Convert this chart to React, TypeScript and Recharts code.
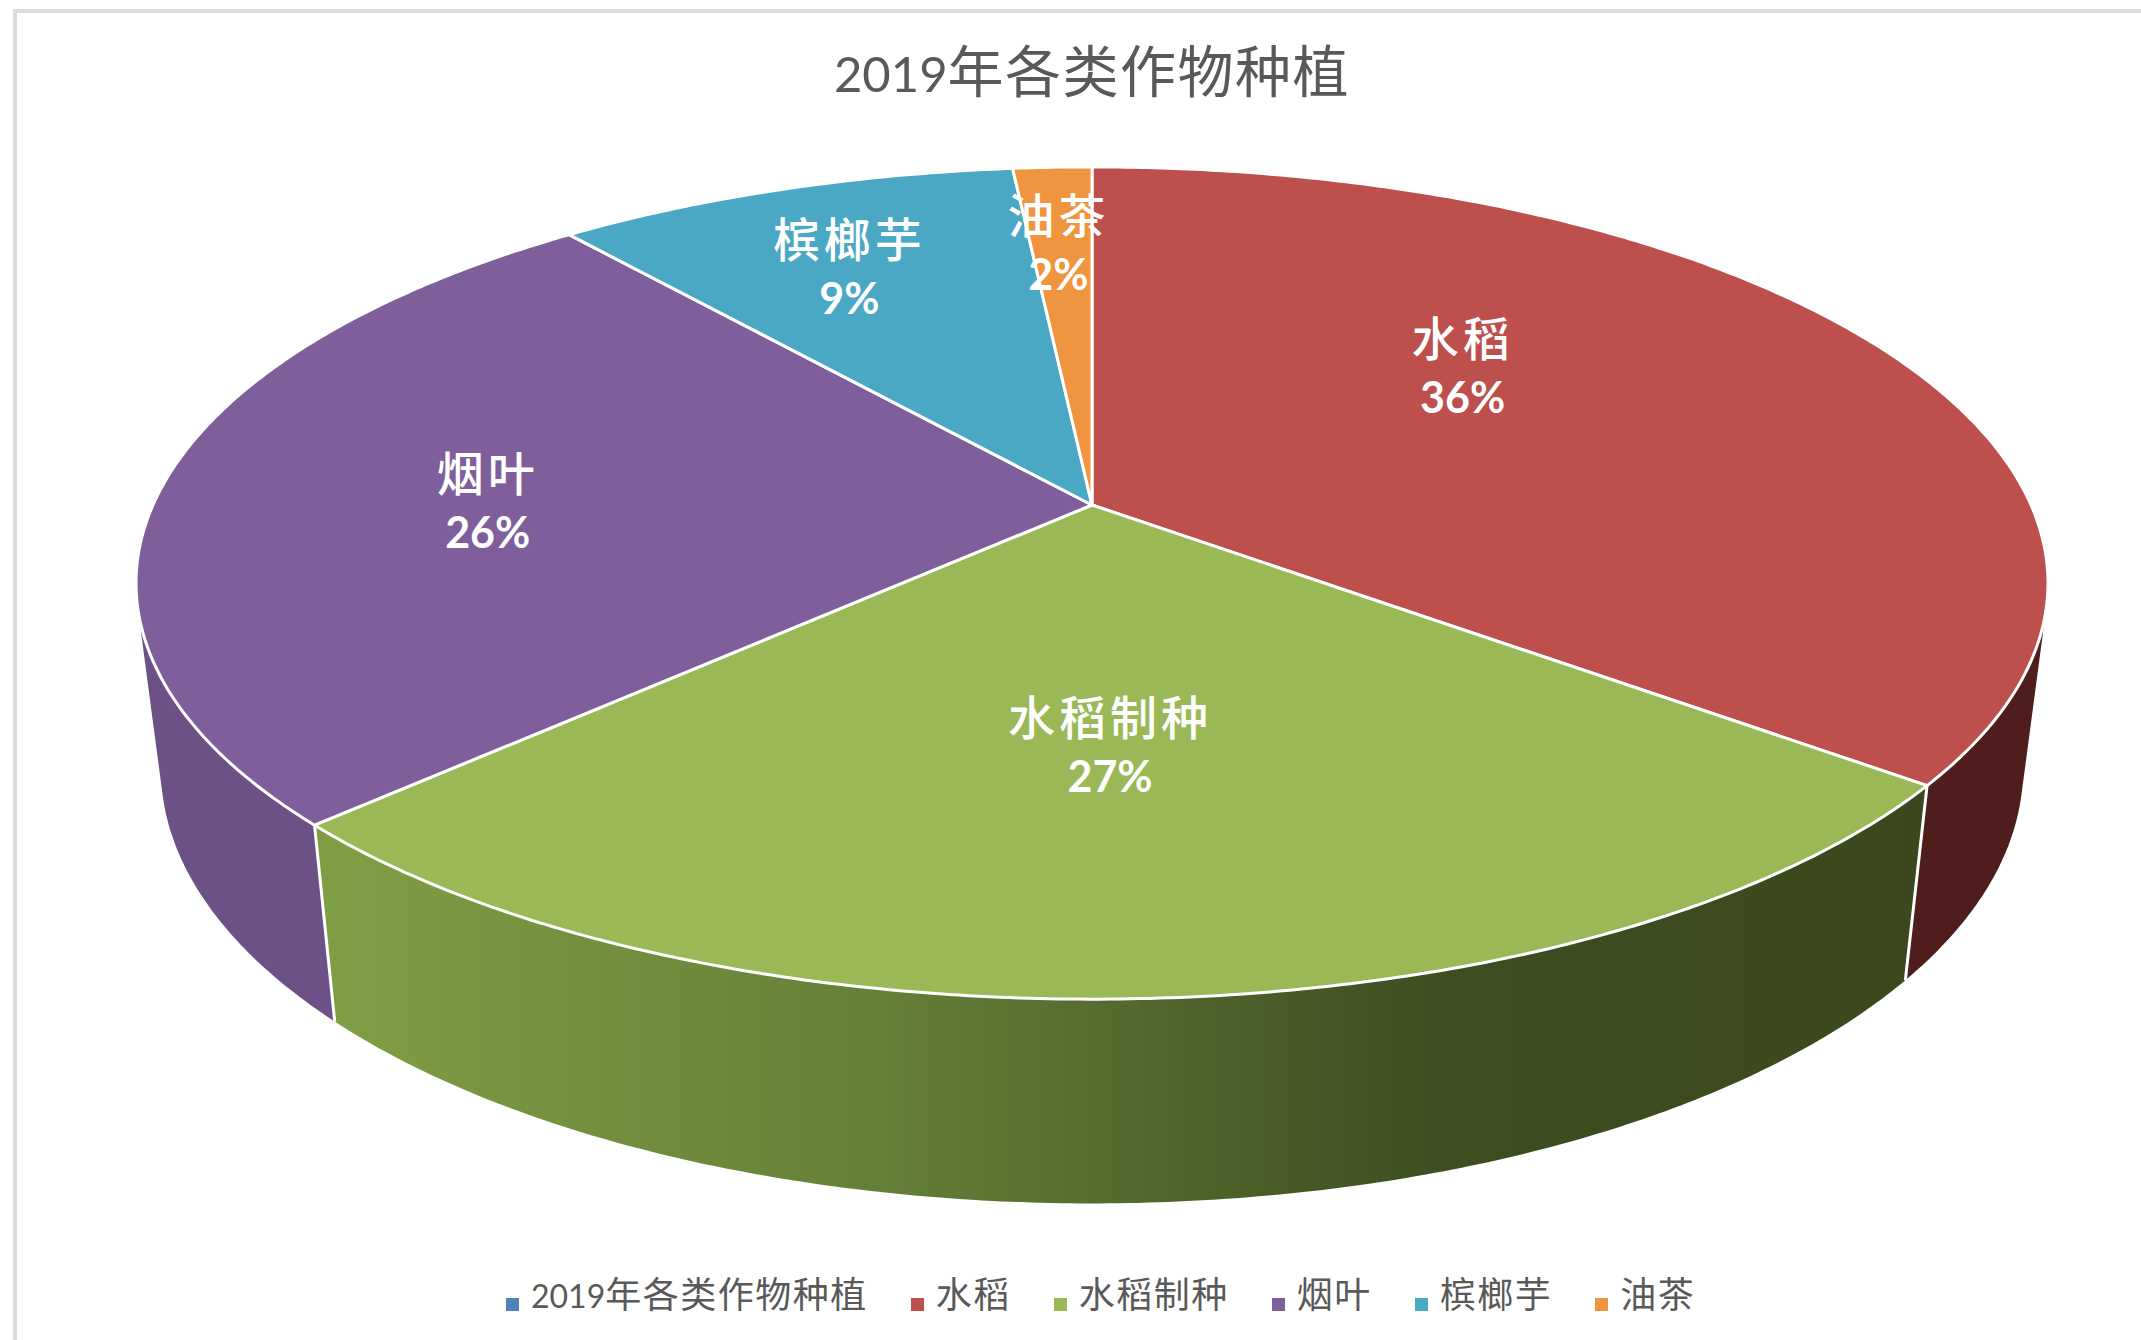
import React from 'react'
import { Legend, Pie, PieChart } from 'recharts'

const chartTitle = '2019年各类作物种植'
const categories = ['2019年各类作物种植', '水稻', '水稻制种', '烟叶', '槟榔芋', '油茶']
// first entry is the series name, Excel lists it in the legend with no slice of its own
const shares = [0, 35.6, 27.2, 26.2, 9.4, 1.6]

const sliceColors = ['#4f81bd', '#bd4f4c', '#9ab956', '#7e5f9b', '#4aa8c5', '#f0953f']
const wallColors = ['#4f81bd', '#4f1d1b', 'url(#greenWall)', '#6b5186', '#3a8aa3', '#c47a30']

// where each label sits relative to the middle of its slice
const labelNudges = [
  [0, 0],
  [-35, -52],
  [-8, 22],
  [-138, 10],
  [-76, -65],
  [-12, -76],
]

const LATIN = 'Lato, "Noto Sans CJK SC", sans-serif'
const CJK = '"Noto Sans CJK SC", sans-serif'

const tableData = categories.map((name, i) => ({ name, value: shares[i], fill: sliceColors[i] }))
const wallData = categories.map((name, i) => ({ name, value: shares[i], fill: wallColors[i] }))
const total = shares.reduce((a, b) => a + b, 0)

// perspective of the disc seen from above, apex is the pie centre
const TILT = 0.1875
const FLATTEN = 0.4276
const WALL_DROP = 182
const WALL_SCALE_X = 0.974
const WALL_SCALE_Y = 1.045

function project(cx: number, cy: number, radius: number, deg: number, r = 1, lower = false) {
  const ux = r * Math.cos((deg * Math.PI) / 180)
  const uy = r * Math.sin((deg * Math.PI) / 180)
  const den = 1 + TILT * uy
  const x = (radius * ux) / den
  const y = (-radius * FLATTEN * uy) / den
  if (lower) return [cx + x * WALL_SCALE_X, cy + WALL_DROP + y * WALL_SCALE_Y]
  return [cx + x, cy + y]
}

function arcPoints(p: any, lower: boolean) {
  const pts: number[][] = []
  const steps = Math.max(2, Math.ceil(Math.abs(p.endAngle - p.startAngle) * 2))
  for (let i = 0; i <= steps; i++) {
    const deg = p.startAngle + ((p.endAngle - p.startAngle) * i) / steps
    pts.push(project(p.cx, p.cy, p.outerRadius, deg, 1, lower))
  }
  return pts
}

const toPath = (pts: number[][]) =>
  pts.map((pt, i) => `${i === 0 ? 'M' : 'L'}${pt[0].toFixed(1)} ${pt[1].toFixed(1)}`).join(' ') + ' Z'

function signedArea(pts: number[][]) {
  let sum = 0
  pts.forEach((pt, i) => {
    const next = pts[(i + 1) % pts.length]
    sum += pt[0] * next[1] - next[0] * pt[1]
  })
  return sum
}

function TopFace(props: any) {
  if (props.startAngle === props.endAngle) return <g />
  const d = toPath([[props.cx, props.cy], ...arcPoints(props, false)])
  return <path d={d} fill={props.fill} stroke="#ffffff" strokeWidth={3} strokeLinejoin="round" />
}

function WallFace(props: any) {
  if (props.startAngle === props.endAngle) return <g />
  const upper = arcPoints(props, false)
  const lower = arcPoints(props, true)
  // sweep the rim strip by strip so the side silhouette comes out straight
  const strips: string[] = []
  for (let i = 0; i < upper.length - 1; i++) {
    const quad = [upper[i], upper[i + 1], lower[i + 1], lower[i]]
    strips.push(toPath(signedArea(quad) < 0 ? quad.reverse() : quad))
  }
  const front = Math.sin((props.startAngle * Math.PI) / 180) < 0
  const a = project(props.cx, props.cy, props.outerRadius, props.startAngle, 1, false)
  const b = project(props.cx, props.cy, props.outerRadius, props.startAngle, 1, true)
  return (
    <g>
      <path d={strips.join(' ')} fill={props.fill} fillRule="nonzero" />
      {front && <line x1={a[0]} y1={a[1]} x2={b[0]} y2={b[1]} stroke="#ffffff" strokeWidth={3} />}
    </g>
  )
}

function SliceLabel(props: any) {
  const { index, cx, cy, outerRadius, midAngle, value, name } = props
  if (!value) return null
  const [mx, my] = project(cx, cy, outerRadius, midAngle, 0.5)
  const x = mx + labelNudges[index][0]
  const y = my + labelNudges[index][1]
  return (
    <g fill="#ffffff" textAnchor="middle">
      <text x={x} y={y - 13} fontFamily={CJK} fontSize={47} fontWeight={500} letterSpacing={4}>
        {name}
      </text>
      <text x={x} y={y + 44} fontFamily={LATIN} fontSize={43} fontWeight={700}>
        {`${((value / total) * 100).toFixed(0)}%`}
      </text>
    </g>
  )
}

function legendText(value: string) {
  const m = value.match(/^(\d+)(.*)$/)
  return (
    <span style={{ color: '#595959', fontFamily: CJK, fontSize: 36, letterSpacing: 1.5, marginLeft: 8, marginRight: 33 }}>
      {m ? <span style={{ fontFamily: LATIN, fontSize: 32, letterSpacing: 0 }}>{m[1]}</span> : null}
      {m ? m[2] : value}
    </span>
  )
}

export default function App() {
  return (
    <div style={{ position: 'absolute', left: 0, top: 0, width: 2141, height: 1340, overflow: 'hidden', background: '#ffffff' }}>
      <div
        style={{
          position: 'absolute',
          left: 13,
          top: 9,
          right: 0,
          bottom: 0,
          borderTop: '4px solid #dcdcdc',
          borderLeft: '4px solid #dcdcdc',
        }}
      />
      <div style={{ position: 'absolute', left: 0, top: 0 }}>
        <PieChart width={2141} height={1340} margin={{ top: 0, right: 0, bottom: 0, left: 0 }}>
          <defs>
            <linearGradient id="greenWall" gradientUnits="userSpaceOnUse" x1={337} y1={0} x2={1903} y2={0}>
              <stop offset="0" stopColor="#7f9e44" />
              <stop offset="0.35" stopColor="#647f38" />
              <stop offset="0.7" stopColor="#3e4e20" />
              <stop offset="1" stopColor="#3b481d" />
            </linearGradient>
          </defs>
          <text x={1092} y={92} textAnchor="middle" fill="#595959" fontFamily={CJK} fontSize={56} letterSpacing={1.5}>
            <tspan fontFamily={LATIN} fontSize={49} letterSpacing={0}>
              {chartTitle.slice(0, 4)}
            </tspan>
            {chartTitle.slice(4)}
          </text>
          <Pie
            data={wallData}
            dataKey="value"
            nameKey="name"
            cx={1092}
            cy={505}
            outerRadius={939}
            startAngle={90}
            endAngle={-270}
            legendType="none"
            stroke="none"
            shape={WallFace}
            isAnimationActive={false}
          />
          <Pie
            data={tableData}
            dataKey="value"
            nameKey="name"
            cx={1092}
            cy={505}
            outerRadius={939}
            startAngle={90}
            endAngle={-270}
            shape={TopFace}
            label={SliceLabel}
            labelLine={false}
            isAnimationActive={false}
          />
          <Legend
            layout="horizontal"
            align="left"
            verticalAlign="bottom"
            iconType="square"
            iconSize={13}
            itemSorter={null}
            formatter={legendText}
            wrapperStyle={{ left: 0, top: 1266, width: 2141, paddingLeft: 506, boxSizing: 'border-box', whiteSpace: 'nowrap', textAlign: 'left' }}
          />
        </PieChart>
      </div>
    </div>
  )
}
